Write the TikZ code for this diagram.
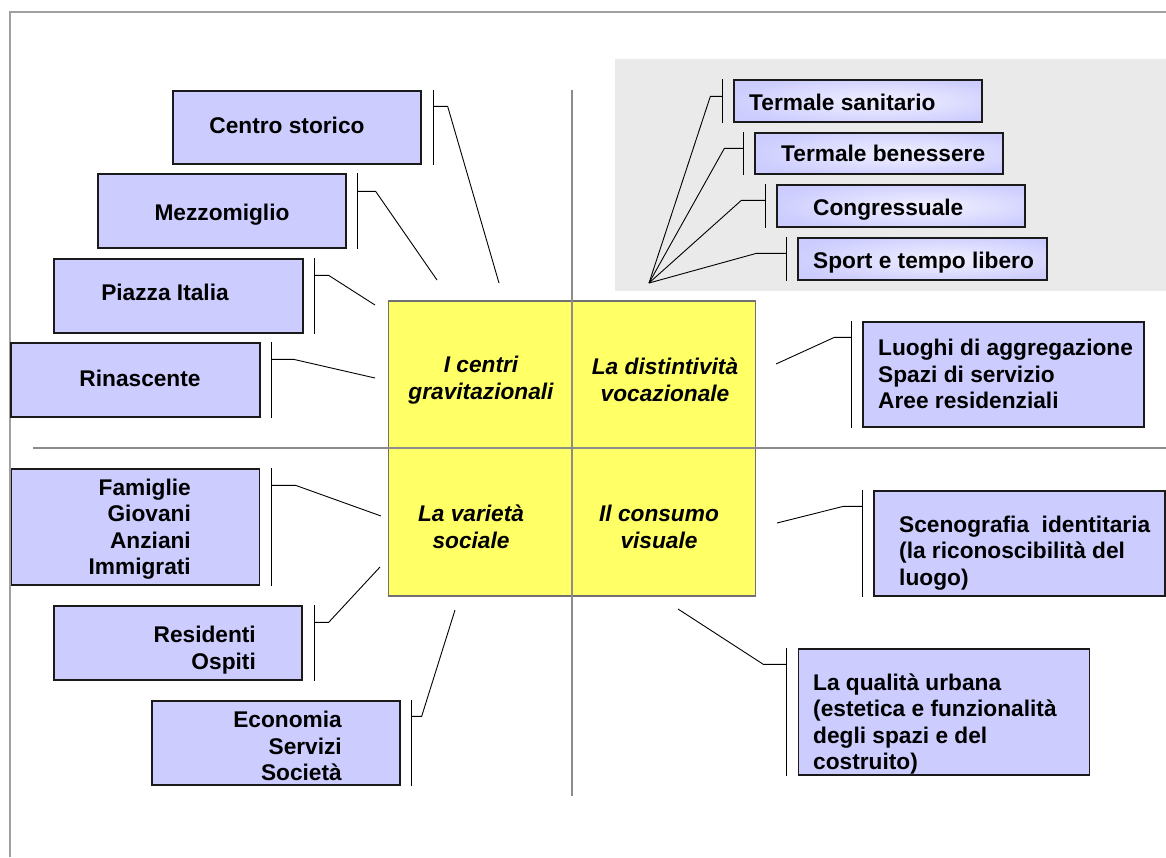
\documentclass[tikz,border=0pt]{standalone}
\usepackage{fontspec}
\setmainfont{Liberation Sans}
\definecolor{lav}{HTML}{CCCCFF}
\definecolor{lavlight}{HTML}{EEEEFF}
\definecolor{quadyellow}{HTML}{FFFF66}
\definecolor{bggray}{HTML}{EAEAEA}
\definecolor{divgray}{HTML}{8C8C8C}
\definecolor{framegray}{HTML}{A0A0A0}
\definecolor{boxline}{HTML}{1A1A1A}
\pgfdeclareradialshading{lavgrad}{\pgfpoint{6bp}{0bp}}{color(0bp)=(lavlight); color(8bp)=(lavlight!80!lav); color(30bp)=(lav); color(50bp)=(lav)}
\begin{document}
\begin{tikzpicture}[x=1pt,y=-1pt,
  txt/.style={font=\fontsize{22.7}{26.5}\selectfont\bfseries, inner sep=0pt, text=black},
  qtxt/.style={font=\fontsize{22.7}{27}\selectfont\bfseries\itshape, inner sep=0pt, align=center, text=black},
  lbox/.style={draw=boxline, line width=1.3pt, fill=lav, inner sep=0pt},
  gbox/.style={draw=boxline, line width=1.3pt, shading=lavgrad, inner sep=0pt},
  brk/.style={draw=black, line width=1.4pt},
  conn/.style={draw=black, line width=0.9pt},
  divline/.style={draw=divgray, line width=1.4pt},
  frameline/.style={draw=framegray, line width=1.8pt}
]
\useasboundingbox (0,0) rectangle (1166,857);
\fill[white] (0,0) rectangle (1166,857);
% frame
\draw[frameline] (10,857) -- (10,12) -- (1166,12);
% gray background of the top-right group
\fill[bggray] (615,59) rectangle (1166,291);
% central square
\node[draw=divgray!80!black, line width=1.3pt, fill=quadyellow, minimum width=367, minimum height=295, inner sep=0pt] (sq) at (572,448.5) {};
% dividers
\draw[divline] (572,90) -- (572,796);
\draw[divline] (33,448) -- (1166,448);
% quadrant labels
\node[qtxt] (q1) at (481,380) {I centri\\gravitazionali};
\node[qtxt] (q2) at (665,380) {La distintività\\vocazionale};
\node[qtxt] (q3) at (471,527) {La varietà\\sociale};
\node[qtxt] (q4) at (659,527) {Il consumo\\visuale};

% connector end points
\coordinate (e1) at (499,283);
\coordinate (e2) at (437,280);
\coordinate (e3) at (375,305);
\coordinate (e4) at (375,378);
\coordinate (e5) at (381,516);
\coordinate (e6) at (380,567);
\coordinate (e7) at (455,610);
\coordinate (fan) at (649,283);
\coordinate (e9) at (776,364);
\coordinate (e10) at (777,523);
\coordinate (e11) at (678,609);

% ---------- left boxes ----------
\node[lbox, minimum width=248, minimum height=73] (b1) at (297,127.5) {};
\node[txt] (t1) at (287,125) {Centro storico};
\draw[brk] ([xshift=12pt]b1.north east) -- ([xshift=12pt]b1.south east);
\draw[conn] ([xshift=12pt,yshift=-16pt]b1.north east) -- ++(14,0) -- (e1);

\node[lbox, minimum width=248, minimum height=74] (b2) at (222,211) {};
\node[txt] (t2) at (222,215) {Mezzomiglio};
\draw[brk] ([xshift=11pt]b2.north east) -- ([xshift=11pt]b2.south east);
\draw[conn] ([xshift=11pt,yshift=-18pt]b2.north east) -- ++(18,0) -- (e2);

\node[lbox, minimum width=249, minimum height=74] (b3) at (178.5,296) {};
\node[txt] (t3) at (165,292) {Piazza Italia};
\draw[brk] ([xshift=11pt]b3.north east) -- ([xshift=11pt]b3.south east);
\draw[conn] ([xshift=11pt,yshift=-17pt]b3.north east) -- ++(14,0) -- (e3);

\node[lbox, minimum width=249, minimum height=74] (b4) at (135.5,380) {};
\node[txt] (t4) at (140,378) {Rinascente};
\draw[brk] ([xshift=11pt]b4.north east) -- ([xshift=11pt]b4.south east);
\draw[conn] ([xshift=11pt,yshift=-17pt]b4.north east) -- ++(22,0) -- (e4);

\node[lbox, minimum width=248, minimum height=116] (b5) at (135.5,527) {};
\node[txt, align=right, anchor=east] (t5) at (191,529) {Famiglie\\Giovani\\Anziani\\Immigrati};
\draw[brk] ([xshift=11.5pt]b5.north east) -- ([xshift=11.5pt]b5.south east);
\draw[conn] ([xshift=11.5pt,yshift=-17pt]b5.north east) -- ++(24,0) -- (e5);

\node[lbox, minimum width=248, minimum height=74] (b6) at (178,643) {};
\node[txt, align=right, anchor=east] (t6) at (256,650) {Residenti\\Ospiti};
\draw[brk] ([xshift=12pt]b6.north east) -- ([xshift=12pt]b6.south east);
\draw[conn] ([xshift=12pt,yshift=-17pt]b6.north east) -- ++(14,0) -- (e6);

\node[lbox, minimum width=248, minimum height=84] (b7) at (276,743) {};
\node[txt, align=right, anchor=east] (t7) at (342,746) {Economia\\Servizi\\Società};
\draw[brk] ([xshift=11pt]b7.north east) -- ([xshift=11pt]b7.south east);
\draw[conn] ([xshift=11pt,yshift=-16pt]b7.north east) -- ++(10,0) -- (e7);

% ---------- top-right group ----------
\node[gbox, minimum width=248, minimum height=42] (g1) at (858,101) {};
\node[txt, anchor=base west] (u1) at (749,110) {Termale sanitario};
\draw[brk] ([xshift=-11pt]g1.north west) -- ([xshift=-11pt]g1.south west);
\draw[conn] ([xshift=-11pt,yshift=-17pt]g1.north west) -- ++(-12,0) -- (fan);

\node[gbox, minimum width=248, minimum height=41] (g2) at (879,153.5) {};
\node[txt, anchor=base west] (u2) at (781,161) {Termale benessere};
\draw[brk] ([xshift=-11pt]g2.north west) -- ([xshift=-11pt]g2.south west);
\draw[conn] ([xshift=-11pt,yshift=-16pt]g2.north west) -- ++(-19,0) -- (fan);

\node[gbox, minimum width=248, minimum height=42] (g3) at (901,206) {};
\node[txt, anchor=base west] (u3) at (813,215) {Congressuale};
\draw[brk] ([xshift=-11pt]g3.north west) -- ([xshift=-11pt]g3.south west);
\draw[conn] ([xshift=-11pt,yshift=-16pt]g3.north west) -- ++(-24,0) -- (fan);

\node[gbox, minimum width=249, minimum height=42] (g4) at (922.5,259) {};
\node[txt, anchor=base west] (u4) at (813,268) {Sport e tempo libero};
\draw[brk] ([xshift=-11pt]g4.north west) -- ([xshift=-11pt]g4.south west);
\draw[conn] ([xshift=-11pt,yshift=-16pt]g4.north west) -- ++(-30,0) -- (fan);

% ---------- right boxes ----------
\node[lbox, minimum width=281, minimum height=105] (r1) at (1003.5,374.5) {};
\node[txt, align=left, anchor=west] (v1) at (878,374) {Luoghi di aggregazione\\Spazi di servizio\\Aree residenziali};
\draw[brk] ([xshift=-11pt]r1.north west) -- ([xshift=-11pt]r1.south west);
\draw[conn] ([xshift=-11pt,yshift=-16pt]r1.north west) -- ++(-17,0) -- (e9);

\node[lbox, minimum width=291, minimum height=105] (r2) at (1019.5,543.5) {};
\node[txt, align=left, anchor=west] (v2) at (899,553) {Scenografia\ \ identitaria\\(la riconoscibilità del\\luogo)};
\draw[brk] ([xshift=-11pt]r2.north west) -- ([xshift=-11pt]r2.south west);
\draw[conn] ([xshift=-11pt,yshift=-16pt]r2.north west) -- ++(-19,0) -- (e10);

\node[lbox, minimum width=291, minimum height=126] (r3) at (944,712) {};
\node[txt, align=left, anchor=west] (v3) at (813,724) {La qualità urbana\\(estetica e funzionalità\\degli spazi e del\\costruito)};
\draw[brk] ([xshift=-11.5pt]r3.north west) -- ([xshift=-11.5pt]r3.south west);
\draw[conn] ([xshift=-11.5pt,yshift=-16pt]r3.north west) -- ++(-23,0) -- (e11);
\end{tikzpicture}
\end{document}
